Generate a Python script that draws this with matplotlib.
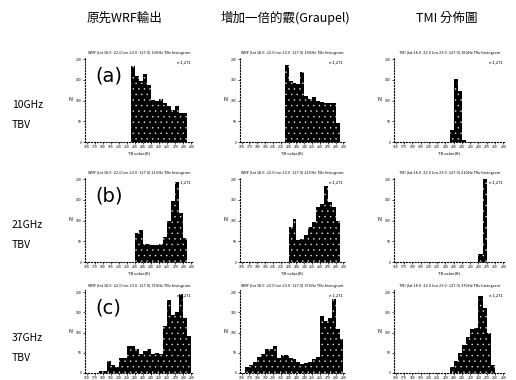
import numpy as np
import matplotlib
matplotlib.use("Agg")
import matplotlib.pyplot as plt

plt.rcParams['font.family'] = ['Noto Sans CJK TC', 'DejaVu Sans']
plt.rcParams['axes.unicode_minus'] = False
plt.rcParams['hatch.linewidth'] = 0.25

# column / row headers
col_titles = ["原先WRF輸出", "增加一倍的霰(Graupel)", "TMI 分佈圖"]
row_titles = ["10GHz\nTBV", "21GHz\nTBV", "37GHz\nTBV"]
letters = ["(a)", "(b)", "(c)"]
freqs = ["10GHz", "21GHz", "37GHz"]
sources = ["WRF", "WRF", "TMI"]

# histogram bins: TB 160..290 K, 5 K wide (26 bins)
bin_left = np.arange(160, 290, 5)

def fill(start, vals):
    c = np.zeros(26)
    c[start:start + len(vals)] = vals
    return c

counts_10_wrf = fill(11, [184, 160, 146, 164, 138, 102, 98, 104, 94, 86, 78, 86, 70, 70])
counts_10_grp = fill(11, [186, 146, 142, 140, 168, 112, 104, 108, 100, 96, 94, 94, 94, 46])
counts_10_tmi = fill(13, [28, 152, 124, 6])
counts_21_wrf = fill(12, [70, 76, 44, 44, 40, 42, 44, 60, 100, 146, 192, 118, 58])
counts_21_grp = fill(12, [84, 104, 52, 56, 64, 84, 96, 132, 140, 184, 144, 132, 100])
counts_21_tmi = fill(20, [20, 200])
counts_37_wrf = fill(3, [4, 6, 30, 20, 14, 38, 38, 66, 66, 60, 46, 54, 60, 46, 50, 46,
                         116, 180, 144, 150, 196, 136, 92])
counts_37_grp = fill(1, [14, 20, 26, 40, 46, 60, 60, 66, 38, 44, 44, 38, 34, 26, 22, 24,
                         28, 34, 40, 140, 128, 136, 184, 108, 84])
counts_37_tmi = fill(13, [14, 30, 50, 70, 90, 108, 112, 190, 160, 100, 20])

grid = [[counts_10_wrf, counts_10_grp, counts_10_tmi],
        [counts_21_wrf, counts_21_grp, counts_21_tmi],
        [counts_37_wrf, counts_37_grp, counts_37_tmi]]

W, H = 516, 380
fig = plt.figure(figsize=(W / 100, H / 100), dpi=100)

# pixel boxes (left, right) and (top, bottom)
cols_px = [(85, 193), (240, 345), (394, 505)]
rows_px = [(57, 142), (177, 262), (290, 373)]
head_x = [124, 285, 447]

for j, t in enumerate(col_titles):
    fig.text(head_x[j] / W, 1 - 18 / H, t, ha='center', va='center', fontsize=9)

for i in range(3):
    top, bot = rows_px[i]
    fig.text(12 / W, 1 - (top + 58) / H, row_titles[i], ha='left', va='center',
             fontsize=7.5, linespacing=2.2)
    for j in range(3):
        l, r = cols_px[j]
        ax = fig.add_axes([l / W, 1 - bot / H, (r - l) / W, (bot - top) / H])
        c = grid[i][j]
        ax.bar(bin_left, c, width=5, align='edge', color='black', linewidth=0)
        ax.bar(bin_left, c, width=5, align='edge', facecolor='none',
               edgecolor='white', hatch='...', linewidth=0)
        ax.set_xlim(158, 292)
        ax.set_ylim(0, 205)
        for s in ['top', 'right']:
            ax.spines[s].set_visible(False)
        for s in ['left', 'bottom']:
            ax.spines[s].set_linestyle(':')
            ax.spines[s].set_linewidth(0.8)
        ax.set_xticks(np.arange(160, 291, 10))
        ax.set_yticks([0, 50, 100, 150, 200])
        ax.tick_params(labelsize=2.5, length=1.5, width=0.5, pad=1)
        if i < 2:
            ax.set_xlabel("TB value(K)", fontsize=3, labelpad=1)
        ax.set_ylabel("N", fontsize=4, labelpad=4, rotation=0, va='center')
        ax.set_title("%s (lat 18.0~22.0 lon 23.0~127.0) %s TBv histogram" % (sources[j], freqs[i]),
                     fontsize=2.8, pad=2)
        ax.text(0.98, 0.96, "n 1,271", transform=ax.transAxes, ha='right', va='top',
                fontsize=3)
        if j == 0:
            ax.text(0.1, 0.78, letters[i], transform=ax.transAxes, ha='left', va='center',
                    fontsize=14, family=['DejaVu Sans'])

fig.savefig("out.png", dpi=100)
